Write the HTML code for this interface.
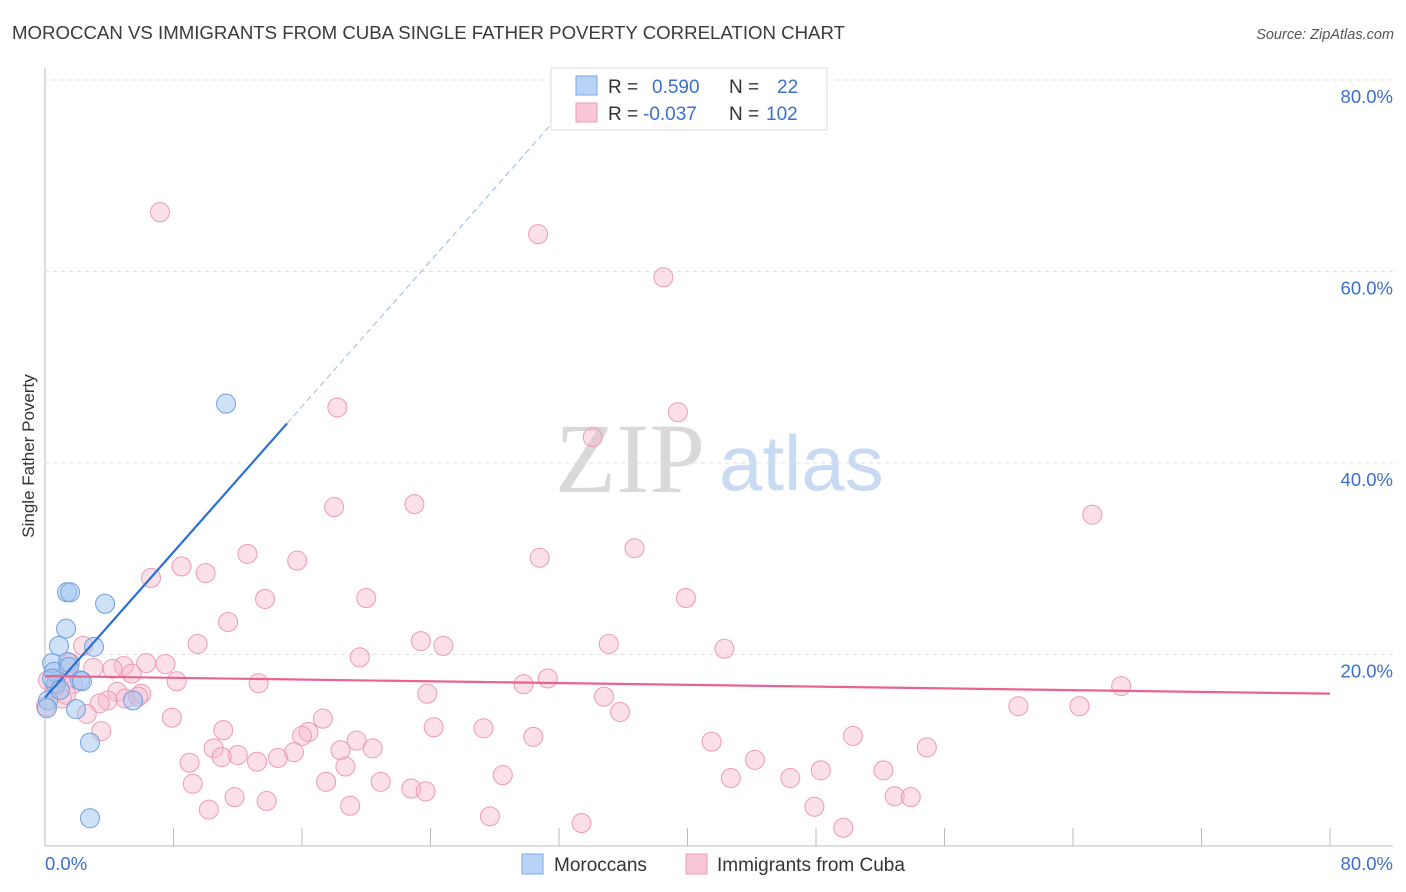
<!DOCTYPE html>
<html><head><meta charset="utf-8"><style>
body{margin:0;background:#fff;font-family:"Liberation Sans",sans-serif;}
svg{display:block}
</style></head><body>
<svg id="chart" width="1406" height="892">
<text x="12" y="39" font-size="18" fill="#3a3a3a" textLength="833" lengthAdjust="spacingAndGlyphs">MOROCCAN VS IMMIGRANTS FROM CUBA SINGLE FATHER POVERTY CORRELATION CHART</text>
<text x="1394" y="39" font-size="14.5" fill="#555" font-style="italic" text-anchor="end">Source: ZipAtlas.com</text>
<g>
<text x="555" y="492" font-size="100" font-family="Liberation Serif,serif" fill="#d9d9d9">ZIP</text>
<text x="719" y="490" font-size="78" fill="#c9daf3">atlas</text>
</g>
<g id="grid"></g><g id="marks"></g>
<text transform="translate(34,456) rotate(-90)" font-size="17" fill="#333" text-anchor="middle">Single Father Poverty</text>
<g>
<rect x="551" y="68" width="276" height="62" fill="#fff" stroke="#ddd"/>
<rect x="576" y="76" width="21" height="19" fill="#b8d3f5" stroke="#7aa8e6"/>
<rect x="576" y="103" width="21" height="19" fill="#f8c8d6" stroke="#ee9ab4"/>
<text x="608" y="93" font-size="19" fill="#333">R = <tspan fill="#3a6fd0" x="652">0.590</tspan><tspan x="729" fill="#333">N =</tspan><tspan x="777" fill="#3a6fd0">22</tspan></text>
<text x="608" y="120" font-size="19" fill="#333">R = <tspan fill="#3a6fd0" x="643">-0.037</tspan><tspan x="729" fill="#333">N =</tspan><tspan x="766" fill="#3a6fd0">102</tspan></text>
</g>
<g>
<rect x="522" y="854" width="21" height="20" fill="#b8d3f5" stroke="#7aa8e6"/>
<text x="554" y="871" font-size="19" fill="#333">Moroccans</text>
<rect x="686" y="854" width="21" height="20" fill="#f8c8d6" stroke="#ee9ab4"/>
<text x="717" y="871" font-size="19" fill="#333">Immigrants from Cuba</text>
</g>
</svg>
<script>
const yTicks=[20,40,60,80];
const xTickLabels=["0.0%","80.0%"];
const blueX=[1.37,1.56,3.74,11.27,1.31,0.87,3.05,0.44,1.43,0.56,2.18,0.68,0.19,0.12,1.93,5.48,2.8,2.8,0.44,0.93,1.49,2.3];
const blueY=[26.5,26.5,25.3,46.2,22.7,20.9,20.8,19.1,19.2,18.2,17.3,16.9,15.2,14.4,14.3,15.2,10.8,2.9,17.5,16.3,18.7,17.2];
const pinkX=[7.16,30.7,38.5,18.2,39.4,34.1,18.0,23.0,65.2,12.6,36.7,30.8,15.7,8.5,10.0,6.6,13.7,20.0,39.9,11.4,23.4,24.8,35.1,9.5,2.37,42.3,19.6,7.5,6.3,4.9,4.2,3.0,1.56,5.4,8.2,13.3,31.3,29.8,67.0,4.5,6.0,23.8,34.8,3.9,5.0,5.8,3.4,1.06,35.8,60.6,64.4,2.6,7.9,17.3,3.5,11.1,24.2,27.3,16.4,16.0,30.4,50.3,19.4,41.5,10.5,15.5,18.4,20.4,54.9,12.0,11.0,13.2,14.5,9.0,44.2,18.7,48.3,52.2,28.5,42.7,46.4,17.5,20.9,9.2,22.8,23.7,11.8,13.8,52.9,53.9,19.0,10.2,47.9,27.7,33.4,49.7,0.19,0.62,0.06,0.93,1.74,1.31];
const pinkY=[66.2,63.9,59.4,45.8,45.3,42.7,35.4,35.7,34.6,30.5,31.1,30.1,29.8,29.2,28.5,28.0,25.8,25.9,25.9,23.4,21.4,20.9,21.1,21.1,20.9,20.6,19.7,19.0,19.1,18.8,18.5,18.6,19.1,18.0,17.2,17.0,17.5,16.9,16.7,16.1,15.9,15.9,15.6,15.2,15.4,15.6,14.9,15.4,14.0,14.6,14.6,13.8,13.4,13.3,12.0,12.1,12.4,12.3,11.9,11.5,11.4,11.5,11.0,10.9,10.2,9.8,10.0,10.2,10.3,9.5,9.3,8.8,9.2,8.7,9.0,8.3,7.9,7.9,7.4,7.1,7.1,6.7,6.7,6.5,6.0,5.7,5.1,4.7,5.2,5.1,4.2,3.8,4.1,3.1,2.4,1.9,17.3,16.5,14.6,17.5,16.9,15.8];
const blueFit=[15.5,1.9];
const pinkFit=[17.75,-0.023];
const NS='http://www.w3.org/2000/svg';
const X=v=>45+v*1285/80, Y=v=>846-v*191.5/20;
function mk(t,a,p){const e=document.createElementNS(NS,t);for(const k in a)e.setAttribute(k,a[k]);p.appendChild(e);return e;}
const g=document.getElementById('grid'), m=document.getElementById('marks');
let ax=mk('line',{x1:45,y1:68,x2:45,y2:846,stroke:'#bbb'},g);


let bx=mk('line',{x1:45,y1:846,x2:1393,y2:846,stroke:'#bbb'},g);


yTicks.forEach(t=>{
 const l=mk('line',{x1:45,x2:1393,y1:Y(t),y2:Y(t),stroke:'#e2e2e2','stroke-dasharray':'4,4'},g);
 
 
 const tx=mk('text',{x:1393,y:Y(t)+23,'font-size':18.5,fill:'#3a6fd0','text-anchor':'end'},g);
 tx.textContent=t.toFixed(1)+'%';
 
 
});
for(let i=1;i<=10;i++){const l=mk('line',{x1:X(i*8),x2:X(i*8),y1:828,y2:846,stroke:'#bbb'},g);
 
 }
let t0=mk('text',{x:45,y:870,'font-size':18.5,fill:'#3a6fd0'},g);t0.textContent=xTickLabels[0];


let t1=mk('text',{x:1393,y:870,'font-size':18.5,fill:'#3a6fd0','text-anchor':'end'},g);t1.textContent=xTickLabels[1];


pinkX.forEach((x,i)=>{const c=mk('circle',{cx:X(x),cy:Y(pinkY[i]),r:9.5,fill:'rgba(246,182,204,0.42)',stroke:'#ee9ab4','stroke-width':1},m);
 
 });
blueX.forEach((x,i)=>{const c=mk('circle',{cx:X(x),cy:Y(blueY[i]),r:9.5,fill:'rgba(160,196,240,0.5)',stroke:'#6f9fe0','stroke-width':1},m);
 
 });
const bEnd=15.07, bTop=(80-blueFit[0])/blueFit[1]*0.985;
let bl=mk('line',{x1:X(0),y1:Y(blueFit[0]),x2:X(bEnd),y2:Y(blueFit[0]+blueFit[1]*bEnd),stroke:'#2a6fd6','stroke-width':2.2},m);


let bd=mk('line',{x1:X(bEnd),y1:Y(blueFit[0]+blueFit[1]*bEnd),x2:X(bTop),y2:Y(blueFit[0]+blueFit[1]*bTop),stroke:'#9ab8e6','stroke-width':1,'stroke-dasharray':'6,4'},m);


let pl=mk('line',{x1:X(0),y1:Y(pinkFit[0]),x2:X(80),y2:Y(pinkFit[0]+pinkFit[1]*80),stroke:'#e8648f','stroke-width':2.2},m);


</script>
</body></html>
